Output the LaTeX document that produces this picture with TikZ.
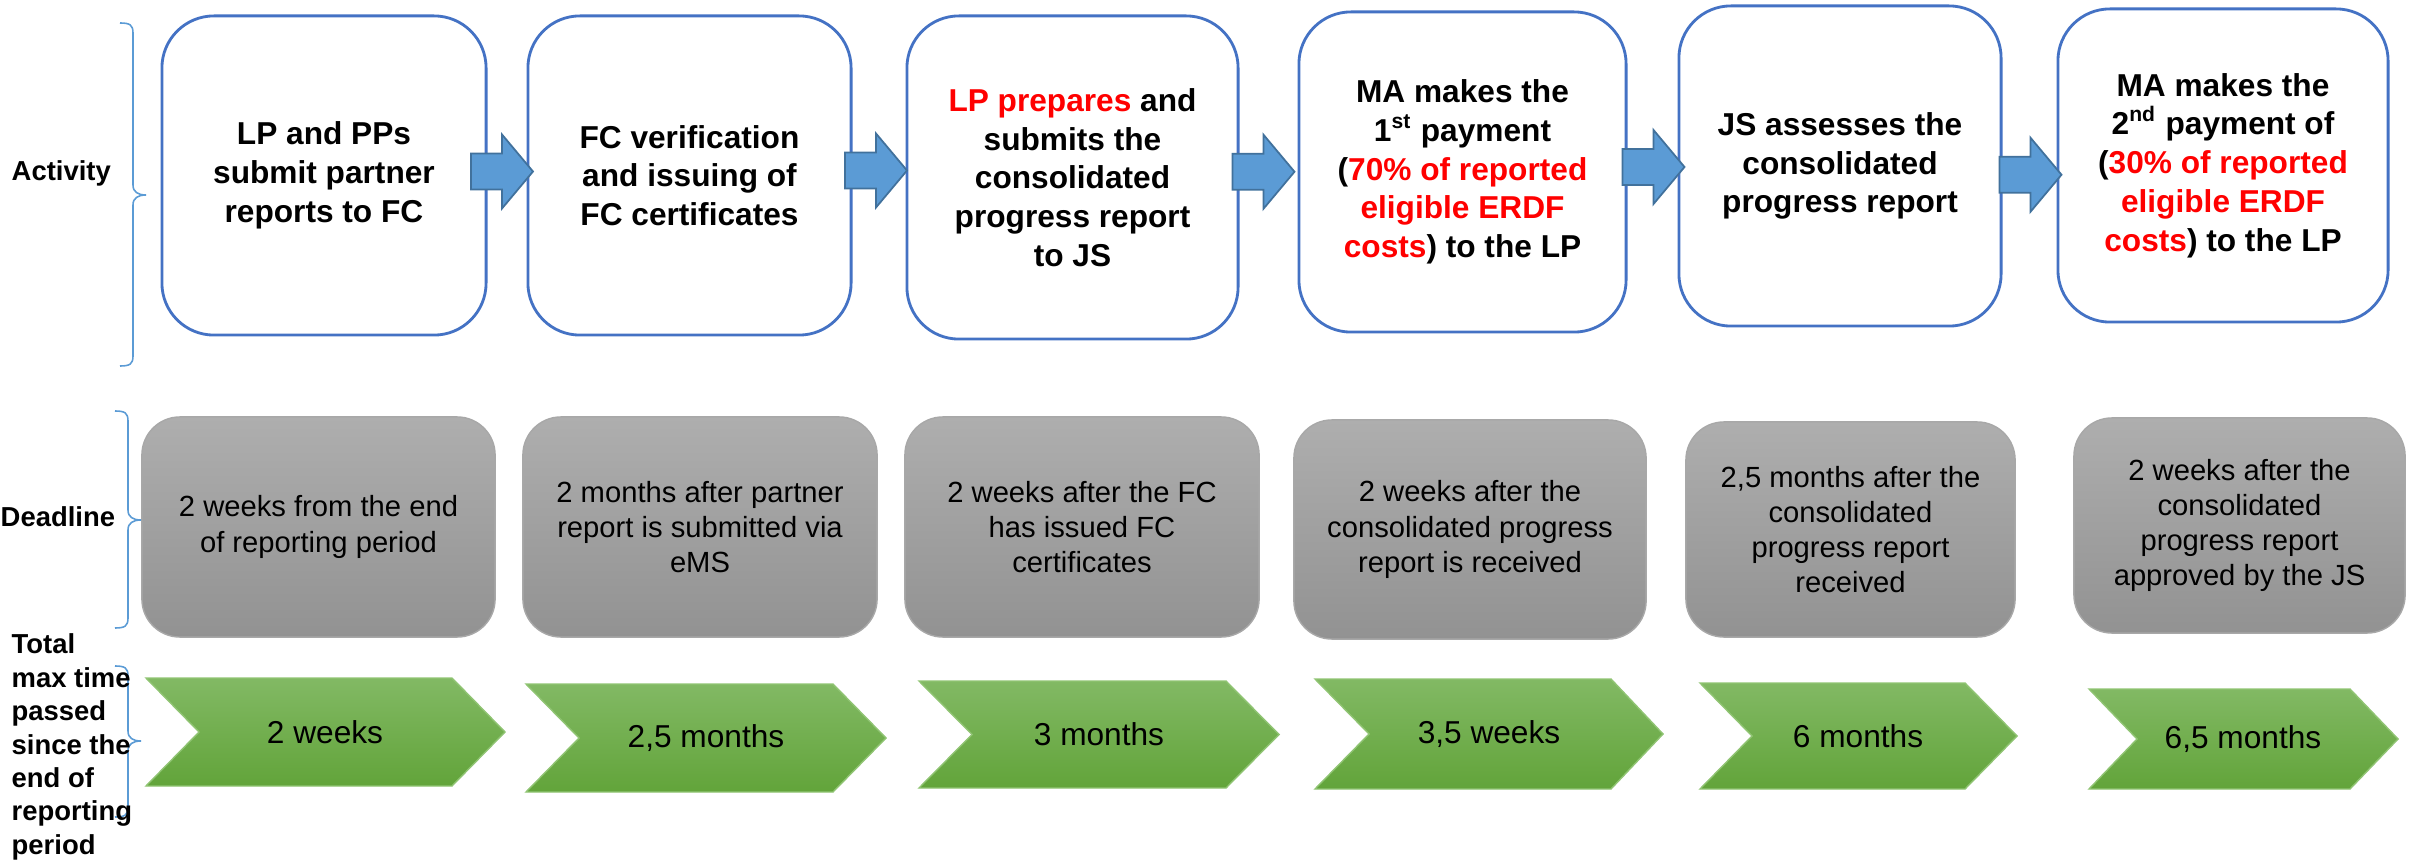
\documentclass[tikz,border=0pt]{standalone}
\usepackage{fontspec}
\setmainfont{Liberation Sans}
\usetikzlibrary{calc}

\definecolor{boxblue}{HTML}{4472C4}
\definecolor{arrowblue}{HTML}{5B9BD5}
\definecolor{arrowedge}{HTML}{41719C}
\definecolor{greytop}{HTML}{AEAEAE}
\definecolor{greybot}{HTML}{929292}
\definecolor{greyedge}{HTML}{A8A8A8}
\definecolor{greentop}{HTML}{82B964}
\definecolor{greenbot}{HTML}{62A43A}
\definecolor{greenedge}{HTML}{90C473}
\definecolor{hired}{HTML}{FF0000}

\begin{document}
\begin{tikzpicture}
        [x=0.01cm, y=-0.01cm,
        activity/.style={draw=boxblue, line width=0.8pt, fill=white, rounded corners=0.52cm, align=center, inner sep=0pt, font=\fontsize{9}{11}\selectfont\bfseries},
        deadline/.style={draw=greyedge, line width=0.4pt, top color=greytop, bottom color=greybot, rounded corners=0.38cm, align=center, inner sep=0pt, font=\fontsize{8.3}{10}\selectfont},
        timebar/.style={draw=greenedge, line width=0.4pt, top color=greentop, bottom color=greenbot},
        timetext/.style={inner sep=0pt, font=\fontsize{9}{10}\selectfont},
        rowlabel/.style={inner sep=0pt, align=left, font=\fontsize{7.8}{9.5}\selectfont\bfseries},
        brace/.style={draw=arrowblue, line width=0.45pt},
        pics/blockarrow/.style={code={
          \draw[fill=arrowblue, draw=arrowedge, line width=0.5pt] (-31,-18) -- (0,-18) -- (0,-37) -- (31,0) -- (0,37) -- (0,18) -- (-31,18) -- cycle;}}]
        \useasboundingbox (0,0) rectangle (2412,861);

        \node (a1) at (324,175.5) [activity, minimum width=3.24cm, minimum height=3.19cm] {LP and PPs\\ submit partner\\ reports to FC};
        \node (a2) at (689.5,175.5) [activity, minimum width=3.23cm, minimum height=3.19cm] {FC verification\\ and issuing of\\ FC certificates};
        \node (a3) at (1072.5,177.5) [activity, minimum width=3.31cm, minimum height=3.23cm] {\textcolor{hired}{LP prepares} and\\ submits the\\ consolidated\\ progress report\\ to JS};
        \node (a4) at (1462.5,172) [activity, minimum width=3.27cm, minimum height=3.20cm] {MA makes the\\ 1\textsuperscript{st} payment\\ (\textcolor{hired}{70\% of reported}\\ \textcolor{hired}{eligible ERDF}\\ \textcolor{hired}{costs}) to the LP};
        \node (a5) at (1840,166) [activity, minimum width=3.22cm, minimum height=3.20cm] {JS assesses the\\ consolidated\\ progress report};
        \node (a6) at (2223,165.5) [activity, minimum width=3.30cm, minimum height=3.13cm] {MA makes the\\ 2\textsuperscript{nd} payment of\\ (\textcolor{hired}{30\% of reported}\\ \textcolor{hired}{eligible ERDF}\\ \textcolor{hired}{costs}) to the LP};

        \path ($(a1.east)!0.5!(a2.west)$) ++(-5,-4) pic {blockarrow};
        \path ($(a2.east)!0.5!(a3.west)$) ++(-3,-6) pic {blockarrow};
        \path ($(a3.east)!0.5!(a4.west)$) ++(-5,-3) pic {blockarrow};
        \path ($(a4.east)!0.5!(a5.west)$) ++(1,-2) pic {blockarrow};
        \path ($(a5.east)!0.5!(a6.west)$) ++(1,9) pic {blockarrow};

        \node (d1) at (318.5,527) [deadline, minimum width=3.53cm, minimum height=2.20cm] {2 weeks from the end\\ of reporting period};
        \node (d2) at (700,527) [deadline, minimum width=3.54cm, minimum height=2.20cm] {2 months after partner\\ report is submitted via\\ eMS};
        \node (d3) at (1082,527) [deadline, minimum width=3.54cm, minimum height=2.20cm] {2 weeks after the FC\\ has issued FC\\ certificates};
        \node (d4) at (1470,529.5) [deadline, minimum width=3.52cm, minimum height=2.19cm] {2 weeks after the\\ consolidated progress\\ report is received};
        \node (d5) at (1850.5,529.5) [deadline, minimum width=3.29cm, minimum height=2.15cm] {2,5 months after the\\ consolidated\\ progress report\\ received};
        \node (d6) at (2239.5,525.5) [deadline, minimum width=3.31cm, minimum height=2.15cm] {2 weeks after the\\ consolidated\\ progress report\\ approved by the JS};

        \shadedraw[timebar] (146,678) -- (452,678) -- (505,732) -- (452,786) -- (146,786) -- (199,732) -- cycle;
        \node (t1) at (325,732) [timetext] {2 weeks};
        \shadedraw[timebar] (526,684) -- (833,684) -- (886,738) -- (833,792) -- (526,792) -- (579,738) -- cycle;
        \node (t2) at (706,738) [timetext] {2,5 months};
        \shadedraw[timebar] (919,681) -- (1226,681) -- (1279,734.5) -- (1226,788) -- (919,788) -- (972,734.5) -- cycle;
        \node (t3) at (1099,734.5) [timetext] {3 months};
        \shadedraw[timebar] (1315,679) -- (1611,679) -- (1663,734) -- (1611,789) -- (1315,789) -- (1369,734) -- cycle;
        \node (t4) at (1489,734) [timetext] {3,5 weeks};
        \shadedraw[timebar] (1700,683) -- (1965,683) -- (2017,736) -- (1965,789) -- (1700,789) -- (1752,736) -- cycle;
        \node (t5) at (1858,736) [timetext] {6 months};
        \shadedraw[timebar] (2089,689) -- (2350,689) -- (2398,739) -- (2350,789) -- (2089,789) -- (2137,739) -- cycle;
        \node (t6) at (2243,739) [timetext] {6,5 months};

        \draw[brace] (120,23) .. controls (130,23) and (133,25) .. (133,33) -- (133,185) .. controls (133,192) and (138,195) .. (146,195) .. controls (138,195) and (133,198) .. (133,205) -- (133,356) .. controls (133,364) and (130,366) .. (120,366);
        \draw[brace] (115,411) .. controls (125,411) and (128,413) .. (128,421) -- (128,510) .. controls (128,517) and (133,520) .. (141,520) .. controls (133,520) and (128,523) .. (128,530) -- (128,618) .. controls (128,626) and (125,628) .. (115,628);
        \draw[brace] (115,666) .. controls (125,666) and (128,668) .. (128,676) -- (128,731) .. controls (128,738) and (133,741) .. (141,741) .. controls (133,741) and (128,744) .. (128,751) -- (128,807) .. controls (128,815) and (125,817) .. (115,817);

        \node (lact) at (11,173) [rowlabel, anchor=west] {Activity};
        \node (ldead) at (0,517) [rowlabel, anchor=west] {Deadline};
        \node (ltotal) at (11,747) [rowlabel, anchor=west] {Total\\ max time\\ passed\\ since the\\ end of\\ reporting\\ period};
     \end{tikzpicture}
\end{document}
